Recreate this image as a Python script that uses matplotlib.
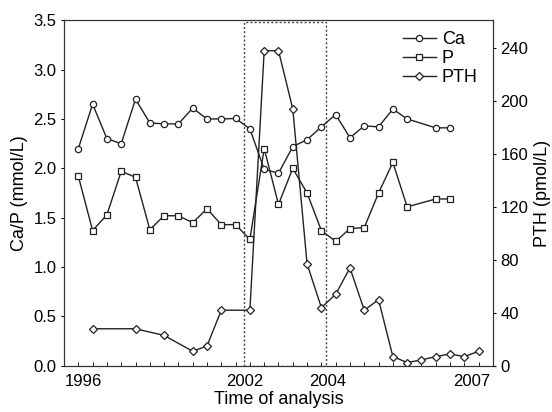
import numpy as np
import matplotlib.pyplot as plt
from matplotlib.patches import Rectangle

plt.rcParams.update({
    "font.family": ["Liberation Sans", "DejaVu Sans"],
    "font.size": 12,
})

# sample index along the time axis (irregular calendar spacing)
idx = np.arange(29)

ca = [2.2, 2.65, 2.30, 2.25, 2.7, 2.46, 2.45, 2.45, 2.61, 2.50, 2.50, 2.505,
      2.40, 1.99, 1.95, 2.22, 2.29, 2.42, 2.545, 2.31, 2.43, 2.42, 2.60, 2.50,
      np.nan, 2.41, 2.41, np.nan, np.nan]
p = [1.92, 1.37, 1.53, 1.97, 1.91, 1.38, 1.52, 1.52, 1.45, 1.59, 1.43, 1.43,
     1.28, 2.2, 1.635, 2.0, 1.75, 1.37, 1.26, 1.39, 1.40, 1.75, 2.06, 1.61,
     np.nan, 1.69, 1.69, np.nan, np.nan]
pth = [np.nan, 28, np.nan, np.nan, 28, np.nan, 23, np.nan, 11, 15, 42, np.nan,
       42, 238, 238, 194, 77, 44, 54, 74, 42, 50, 7, 2.5, 4.5, 7, 9, 7, 11]

year_pos = [0.33, 11.65, 17.45, 27.5]
year_labels = ["1996", "2002", "2004", "2007"]

fig = plt.figure(figsize=(5.52, 4.12), dpi=100)
ax = fig.add_axes([0.116, 0.112, 0.777, 0.839])
ax2 = ax.twinx()

def series(a, x, y, m, lab):
    y = np.asarray(y, float)
    ok = ~np.isnan(y)
    return a.plot(x[ok], y[ok], color="#222222", lw=1.0, marker=m,
                  ms=4.5, mfc="white", mec="#222222",
                  mew=0.9, label=lab)[0]

h1 = series(ax, idx, ca, "o", "Ca")
h2 = series(ax, idx, p, "s", "P")
h3 = series(ax2, idx, pth, "D", "PTH")

# marked period
ax.add_patch(Rectangle((11.6, 0), 17.32 - 11.6, 3.48, fill=False,
                       ls=(0, (1.5, 1.5)), lw=1.0, ec="#444444"))

ax.set_xlim(-1, 29)
ax.set_ylim(0, 3.5)
ax2.set_ylim(0, 261)
ax.set_yticks(np.arange(0, 3.51, 0.5))
ax.set_yticklabels([f"{v:.1f}" for v in np.arange(0, 3.51, 0.5)])
ax2.set_yticks(range(0, 241, 40))

ax.set_xticks(year_pos)
ax.set_xticklabels(year_labels)
ax.set_xticks(idx, minor=True)
ax.tick_params(axis="x", which="major", length=0, pad=6)
ax.tick_params(axis="x", which="minor", direction="in", length=3)
ax.tick_params(axis="y", length=2.5, pad=3)
ax2.tick_params(axis="y", length=2.5, pad=3)

ax.set_xlabel("Time of analysis", fontsize=13, labelpad=1)
ax.set_ylabel("Ca/P (mmol/L)", fontsize=13)
ax2.set_ylabel("PTH (pmol/L)", fontsize=13)

for a in (ax, ax2):
    for s in a.spines.values():
        s.set_color("#333333")

ax.legend([h1, h2, h3], ["Ca", "P", "PTH"], loc="upper right",
          frameon=False, handlelength=1.8, handletextpad=0.35,
          labelspacing=0.12, borderaxespad=0.2, fontsize=13,
          bbox_to_anchor=(0.99, 1.0))

fig.savefig("out.png", dpi=100)
